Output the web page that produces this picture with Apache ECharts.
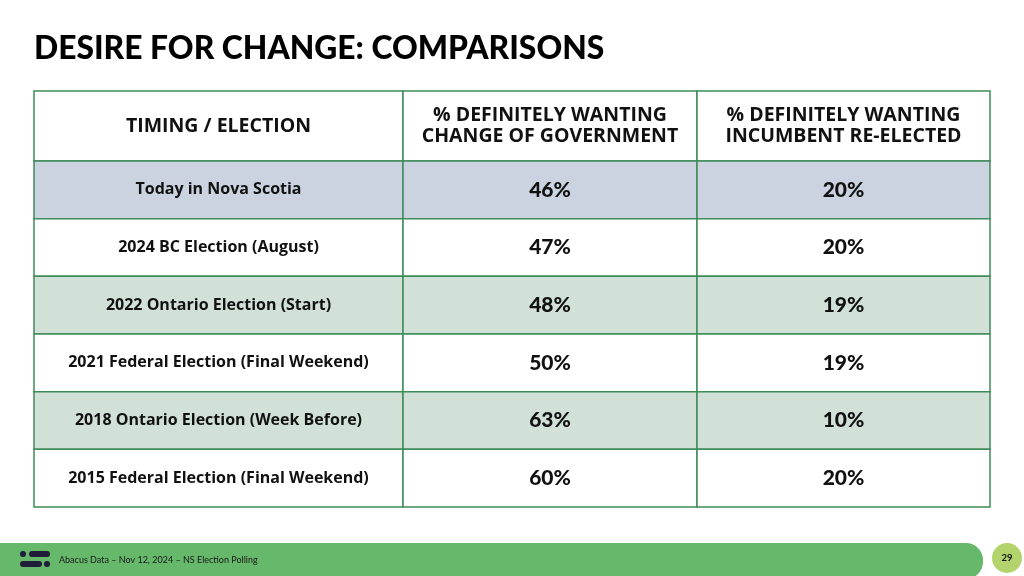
<!DOCTYPE html>
<html><head><meta charset="utf-8">
<script src="https://cdn.jsdelivr.net/npm/echarts@6/dist/echarts.min.js"></script>
<style>html,body{margin:0;padding:0;background:#fff}#c{width:1024px;height:576px}</style>
</head><body><div id="c"></div>
<script>
const TITLE = 'DESIRE FOR CHANGE: COMPARISONS';
const HEADERS = ['TIMING / ELECTION', '% DEFINITELY WANTING\nCHANGE OF GOVERNMENT', '% DEFINITELY WANTING\nINCUMBENT RE-ELECTED'];
const ROWS = ['Today in Nova Scotia', '2024 BC Election (August)', '2022 Ontario Election (Start)', '2021 Federal Election (Final Weekend)', '2018 Ontario Election (Week Before)', '2015 Federal Election (Final Weekend)'];
const CHANGE = [46, 47, 48, 50, 63, 60];
const INCUMBENT = [20, 20, 19, 19, 10, 20];
const FOOTER = 'Abacus Data – Nov 12, 2024 – NS Election Polling';
const PAGE = '29';

// layout (not data)
const COL_EDGES = [0, 369, 663, 956];
const ROW_FILLS = ['#cbd2e0', '#ffffff', '#d1e1d8', '#ffffff', '#d1e1d8', '#ffffff'];
const BORDER = '#3f8c58';
const FONT = 'Lato';
const LABEL_FONT = 'Open Sans';

function cellRender(dataArr, fillFn, fontFn) {
  return function (params, api) {
    const col = api.value(0), row = api.value(1);
    const x0 = api.coord([COL_EDGES[col], row])[0];
    const x1 = api.coord([COL_EDGES[col + 1], row])[0];
    const yc = api.coord([0, row])[1];
    const h = api.size([0, 1])[1];
    const text = dataArr[params.dataIndex][2];
    return {
      type: 'group',
      children: [
        { type: 'rect', shape: { x: x0, y: yc - h / 2, width: x1 - x0, height: h },
          style: { fill: fillFn(row, col), stroke: BORDER, lineWidth: 1.5 } },
        { type: 'text', x: (x0 + x1) / 2, y: yc,
          style: Object.assign({ text: text, align: 'center', verticalAlign: 'middle', fill: '#111', fontFamily: FONT, fontWeight: 'bold' }, fontFn(row, col)) }
      ]
    };
  };
}

const headerData = HEADERS.map((h, j) => [j, 0, h]);
const bodyData = [];
ROWS.forEach((r, i) => {
  bodyData.push([0, i, r]);
  bodyData.push([1, i, CHANGE[i] + '%']);
  bodyData.push([2, i, INCUMBENT[i] + '%']);
});

const chart = echarts.init(document.getElementById('c'), null, { renderer: 'canvas' });
chart.setOption({
  backgroundColor: '#fff',
  animation: false,
  title: { text: TITLE, left: 29, top: 28, textStyle: { fontFamily: FONT, fontWeight: 900, fontSize: 31.8, color: '#000' } },
  grid: [
    { left: 34, top: 91, width: 956, height: 70 },
    { left: 34, top: 161, width: 956, height: 346 }
  ],
  xAxis: [
    { gridIndex: 0, type: 'value', min: 0, max: 956, show: false },
    { gridIndex: 1, type: 'value', min: 0, max: 956, show: false }
  ],
  yAxis: [
    { gridIndex: 0, type: 'category', data: ['header'], inverse: true, show: false },
    { gridIndex: 1, type: 'category', data: ROWS, inverse: true, show: false }
  ],
  series: [
    { type: 'custom', xAxisIndex: 0, yAxisIndex: 0, data: headerData, silent: true,
      encode: { x: 0, y: 1 },
      renderItem: cellRender(headerData, () => '#ffffff', () => ({ fontFamily: LABEL_FONT, fontSize: 19.5, lineHeight: 21 })) },
    { type: 'custom', xAxisIndex: 1, yAxisIndex: 1, data: bodyData, silent: true,
      encode: { x: 0, y: 1 },
      renderItem: cellRender(bodyData, (r) => ROW_FILLS[r], (r, c) => c === 0 ? { fontFamily: LABEL_FONT, fontSize: 16 } : { fontSize: 21, fontWeight: 900 }) }
  ],
  graphic: [
    { type: 'rect', shape: { x: -40, y: 543, width: 1023, height: 36, r: 17 }, style: { fill: '#66b86b' } },
    { type: 'circle', shape: { cx: 23, cy: 554, r: 3 }, style: { fill: '#1f1d3a' } },
    { type: 'rect', shape: { x: 29, y: 551, width: 21, height: 6, r: 3 }, style: { fill: '#1f1d3a' } },
    { type: 'rect', shape: { x: 20, y: 561, width: 22, height: 6, r: 3 }, style: { fill: '#1f1d3a' } },
    { type: 'circle', shape: { cx: 47, cy: 564, r: 3 }, style: { fill: '#1f1d3a' } },
    { type: 'text', x: 59, y: 560, style: { text: FOOTER, fontFamily: FONT, fontSize: 9, fill: '#1a1a1a', verticalAlign: 'middle' } },
    { type: 'circle', shape: { cx: 1007, cy: 558, r: 15 }, style: { fill: '#b3d46c' } },
    { type: 'text', x: 1007, y: 558, style: { text: PAGE, fontFamily: FONT, fontWeight: 'bold', fontSize: 9.5, fill: '#111', align: 'center', verticalAlign: 'middle' } }
  ]
});
</script>
</body></html>
